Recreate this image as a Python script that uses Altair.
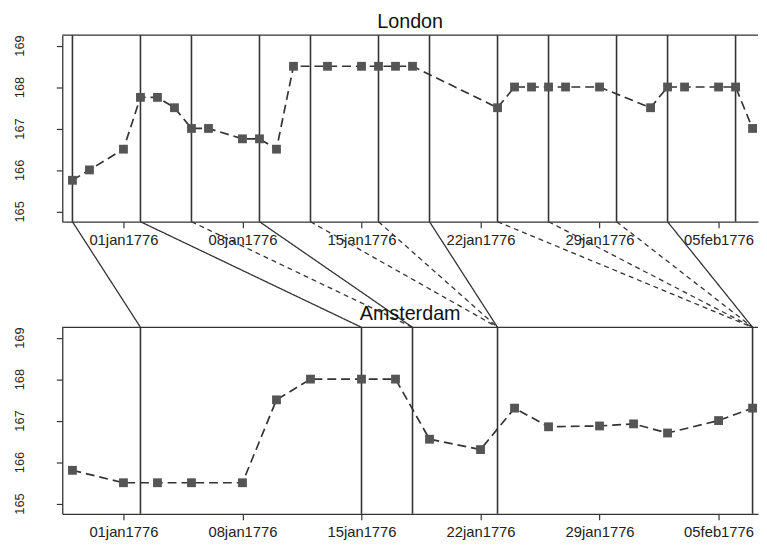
import altair as alt
import pandas as pd

# ---------------- data ----------------
london_dates = ["1775-12-29", "1775-12-30", "1776-01-01", "1776-01-02", "1776-01-03",
                "1776-01-04", "1776-01-05", "1776-01-06", "1776-01-08", "1776-01-09",
                "1776-01-10", "1776-01-11", "1776-01-13", "1776-01-15", "1776-01-16",
                "1776-01-17", "1776-01-18", "1776-01-23", "1776-01-24", "1776-01-25",
                "1776-01-26", "1776-01-27", "1776-01-29", "1776-02-01", "1776-02-02",
                "1776-02-03", "1776-02-05", "1776-02-06", "1776-02-07"]
london_price = [165.75, 166.0, 166.5, 167.75, 167.75,
                167.5, 167.0, 167.0, 166.75, 166.75,
                166.5, 168.5, 168.5, 168.5, 168.5,
                168.5, 168.5, 167.5, 168.0, 168.0,
                168.0, 168.0, 168.0, 167.5, 168.0,
                168.0, 168.0, 168.0, 167.0]

amst_dates = ["1775-12-29", "1776-01-01", "1776-01-03", "1776-01-05", "1776-01-08",
              "1776-01-10", "1776-01-12", "1776-01-15", "1776-01-17", "1776-01-19",
              "1776-01-22", "1776-01-24", "1776-01-26", "1776-01-29", "1776-01-31",
              "1776-02-02", "1776-02-05", "1776-02-07"]
amst_price = [165.8, 165.5, 165.5, 165.5, 165.5,
              167.5, 168.0, 168.0, 168.0, 166.55,
              166.3, 167.3, 166.85, 166.87, 166.92,
              166.7, 167.0, 167.3]

london_marks = ["1775-12-29", "1776-01-02", "1776-01-05", "1776-01-09", "1776-01-12",
                "1776-01-16", "1776-01-19", "1776-01-23", "1776-01-26", "1776-01-30",
                "1776-02-02", "1776-02-06"]
amst_marks = ["1776-01-02", "1776-01-15", "1776-01-18", "1776-01-23", "1776-02-07"]

link_from = ["1775-12-29", "1776-01-02", "1776-01-05", "1776-01-09", "1776-01-12",
             "1776-01-16", "1776-01-19", "1776-01-23", "1776-01-26", "1776-01-30",
             "1776-02-02"]
link_to = ["1776-01-02", "1776-01-15", "1776-01-18", "1776-01-18", "1776-01-23",
           "1776-01-23", "1776-01-23", "1776-02-07", "1776-02-07", "1776-02-07",
           "1776-02-07"]
link_style = ["solid", "solid", "dashed", "solid", "dashed",
              "dashed", "solid", "dashed", "dashed", "dashed",
              "solid"]

tick_days = [(1776, 1, 1), (1776, 1, 8), (1776, 1, 15), (1776, 1, 22), (1776, 1, 29), (1776, 2, 5)]
y_ticks = [165, 166, 167, 168, 169]

# ---------------- layout ----------------
W, H, GAP = 705, 189, 107
FONT = "Liberation Sans"
DARK = "#333333"
MARK = "#555555"


def ts(lst):
    return [d + "T00:00:00" for d in lst]


x_scale = alt.Scale(domain=[alt.DateTime(year=1775, month=12, date=28, hours=9, minutes=39),
                            alt.DateTime(year=1776, month=2, date=7, hours=7, minutes=41)])
x_axis = alt.Axis(values=[alt.DateTime(year=y, month=m, date=d) for y, m, d in tick_days],
                  labelExpr="lower(timeFormat(datum.value, '%d%b%Y'))",
                  title=None, tickSize=6, labelPadding=5, labelFontSize=15,
                  labelAngle=0, labelAlign="center", labelBaseline="top", grid=False)
y_scale = alt.Scale(domain=[164.75, 169.25], nice=False, zero=False)
y_axis = alt.Axis(values=y_ticks, title=None, tickSize=6, labelPadding=30,
                  labelFontSize=13, labelAngle=270, labelAlign="center",
                  labelBaseline="bottom", format="d", grid=False)


def panel(dates, prices, marks, title, links=None):
    series = pd.DataFrame({"date": ts(dates), "price": prices})
    marks_df = pd.DataFrame({"date": ts(marks)})
    border = pd.DataFrame({"k": [0]})

    top_border = alt.Chart(border).mark_rule(color=DARK, strokeWidth=1.3).encode(
        x=alt.value(0), x2=alt.value(W), y=alt.value(0))
    vlines = alt.Chart(marks_df).mark_rule(color=DARK, strokeWidth=1.6).encode(
        x=alt.X("date:T", scale=x_scale, axis=x_axis))
    line = alt.Chart(series).mark_line(color=DARK, strokeWidth=1.7, strokeDash=[9, 5]).encode(
        x=alt.X("date:T", scale=x_scale, axis=x_axis),
        y=alt.Y("price:Q", scale=y_scale, axis=y_axis))
    pts = alt.Chart(series).mark_point(shape="square", filled=True, size=80,
                                       color=MARK, opacity=1).encode(
        x=alt.X("date:T", scale=x_scale, axis=x_axis),
        y=alt.Y("price:Q", scale=y_scale, axis=y_axis))
    layers = [top_border, vlines]
    if links is not None:
        link_df = pd.DataFrame({"from": ts(links[0]), "to": ts(links[1]), "style": links[2]})
        conn = alt.Chart(link_df).mark_rule(color=DARK, strokeWidth=1.3).encode(
            x=alt.X("from:T", scale=x_scale, axis=x_axis),
            x2="to:T",
            y=alt.value(H), y2=alt.value(H + GAP),
            strokeDash=alt.StrokeDash("style:N",
                                      scale=alt.Scale(domain=["solid", "dashed"],
                                                      range=[[1, 0], [5, 4]]),
                                      legend=None))
        layers.append(conn)
    layers += [line, pts]
    return alt.layer(*layers).properties(
        width=W, height=H,
        title=alt.Title(title, fontSize=20, fontWeight="normal", font=FONT,
                        baseline="alphabetic", offset=-13, color="#111111"))


top = panel(london_dates, london_price, london_marks, "London",
            links=(link_from, link_to, link_style))
bottom = panel(amst_dates, amst_price, amst_marks, "Amsterdam")

chart = alt.vconcat(top, bottom, spacing=GAP, bounds="flush").properties(
    padding={"left": 5, "top": 0, "right": 0, "bottom": 0},
    background="white"
).configure_view(stroke=None).configure_axis(
    labelFont=FONT, labelColor="#222222", domainColor=DARK, tickColor=DARK,
    domainWidth=1.3, tickWidth=1.2, grid=False
)

chart.save("out.html", embed_options={"renderer": "svg", "actions": False})
